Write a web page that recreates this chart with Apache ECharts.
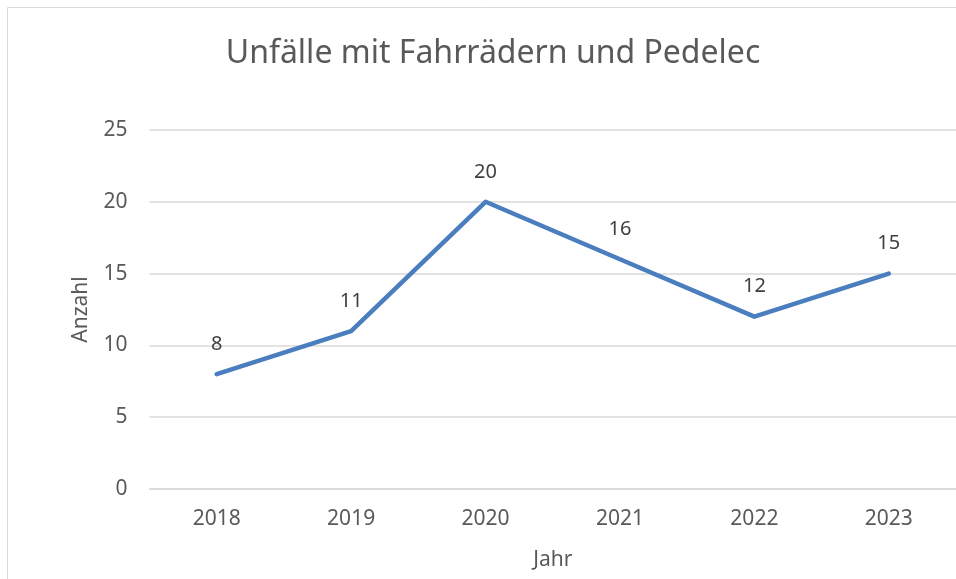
<!DOCTYPE html>
<html>
<head>
<meta charset="utf-8">
<script src="https://cdn.jsdelivr.net/npm/echarts@6/dist/echarts.min.js"></script>
<style>
  html, body { margin: 0; padding: 0; background: #fff; }
  #chart { width: 956px; height: 579px; }
</style>
</head>
<body>
<div id="chart"></div>
<script>
  // Jahre und Anzahl Unfälle
  var years = ['2018', '2019', '2020', '2021', '2022', '2023']
  var counts = [8, 11, 20, 16, 12, 15]
  var yTicks = { min: 0, max: 25, interval: 5 }

  var font = 'Noto Sans'
  var chart = echarts.init(document.getElementById('chart'))

  chart.setOption({
    backgroundColor: '#fff',
    animation: false,
    graphic: [{
      type: 'rect',
      shape: { x: 7.5, y: 7.5, width: 960, height: 600 },
      style: { fill: 'none', stroke: '#d9d9d9', lineWidth: 1 },
      silent: true
    }],
    title: {
      text: 'Unfälle mit Fahrrädern und Pedelec',
      left: 488,
      top: 33,
      textAlign: 'center',
      textStyle: { fontFamily: font, fontSize: 32, fontWeight: 'normal', color: '#595959' }
    },
    grid: { left: 149.5, top: 130, width: 810, height: 359, containLabel: false },
    xAxis: {
      type: 'category',
      data: years,
      name: 'Jahr',
      nameLocation: 'middle',
      nameGap: 61,
      nameTextStyle: { fontFamily: font, fontSize: 21, color: '#595959' },
      axisLine: { show: true, lineStyle: { color: '#d9d9d9', width: 1.5 } },
      axisTick: { show: false },
      axisLabel: { fontFamily: font, fontSize: 21, color: '#595959', margin: 20 }
    },
    yAxis: {
      type: 'value',
      min: yTicks.min,
      max: yTicks.max,
      interval: yTicks.interval,
      name: 'Anzahl',
      nameLocation: 'middle',
      nameGap: 58,
      nameTextStyle: { fontFamily: font, fontSize: 21, color: '#595959' },
      axisLine: { show: false },
      axisTick: { show: false },
      axisLabel: { fontFamily: font, fontSize: 21, color: '#595959', margin: 22 },
      splitLine: { lineStyle: { color: '#d9d9d9', width: 1.5 } }
    },
    series: [{
      type: 'line',
      data: counts,
      symbol: 'circle',
      symbolSize: 0,
      showSymbol: true,
      lineStyle: { color: '#4a7ebe', width: 4.5, cap: 'round', join: 'round' },
      itemStyle: { color: '#4a7ebe' },
      label: {
        show: true,
        position: 'top',
        distance: 20,
        fontFamily: font,
        fontSize: 20,
        color: '#404040'
      }
    }]
  })
</script>
</body>
</html>
